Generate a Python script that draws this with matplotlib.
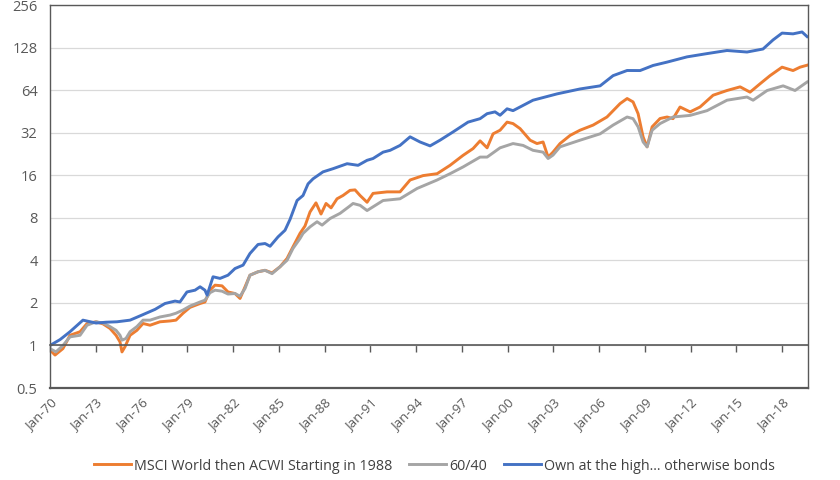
import matplotlib
matplotlib.use("Agg")
import matplotlib.pyplot as plt
from matplotlib.ticker import FixedLocator, NullLocator

# ---------------- data (decimal years, index levels) ----------------
blue_t = [1970.00, 1970.66, 1971.31, 1972.16, 1973.02, 1973.67, 1974.39, 1975.25, 1975.97,
          1976.89, 1977.54, 1978.20, 1978.52, 1978.98, 1979.51, 1979.84, 1980.16, 1980.30,
          1980.69, 1981.15, 1981.67, 1982.13, 1982.66, 1983.11, 1983.64, 1984.10, 1984.43,
          1984.95, 1985.41, 1985.74, 1986.20, 1986.59, 1986.92, 1987.25, 1987.90, 1988.56,
          1989.48, 1990.20, 1990.79, 1991.18, 1991.84, 1992.30, 1992.95, 1993.61, 1994.26,
          1994.92, 1995.57, 1996.43, 1997.41, 1998.20, 1998.66, 1999.18, 1999.51, 1999.97,
          2000.36, 2001.67, 2003.25, 2004.75, 2006.07, 2006.92, 2007.84, 2008.69, 2009.54,
          2010.46, 2011.77, 2013.08, 2013.74, 2014.39, 2015.70, 2016.75, 2017.41, 2018.00,
          2018.72, 2019.31, 2019.64]
blue_v = [1.00, 1.10, 1.25, 1.51, 1.44, 1.46, 1.47, 1.51, 1.63,
          1.80, 1.98, 2.06, 2.03, 2.39, 2.46, 2.60, 2.46, 2.27,
          3.06, 2.98, 3.14, 3.50, 3.70, 4.47, 5.18, 5.26, 5.03,
          5.86, 6.53, 7.80, 10.6, 11.5, 13.9, 15.1, 16.9, 17.8,
          19.3, 18.8, 20.4, 21.0, 23.3, 24.0, 26.0, 29.9, 27.5,
          25.8, 28.3, 32.4, 38.0, 40.2, 43.6, 44.9, 42.5, 47.2,
          45.8, 54.3, 60.2, 65.2, 68.6, 81.0, 88.1, 88.0, 95.6,
          101, 110, 116, 119, 122, 119, 125, 145, 162,
          160, 165, 153]

orange_t = [1970.00, 1970.33, 1970.85, 1971.31, 1971.97, 1972.43, 1973.02, 1973.48, 1973.93,
            1974.33, 1974.59, 1974.72, 1974.92, 1975.25, 1975.70, 1976.10, 1976.56, 1977.21,
            1977.87, 1978.26, 1978.72, 1979.18, 1979.84, 1980.16, 1980.49, 1980.82, 1981.28,
            1981.67, 1982.13, 1982.46, 1982.79, 1983.11, 1983.64, 1984.10, 1984.56, 1985.08,
            1985.54, 1985.93, 1986.39, 1986.72, 1987.05, 1987.44, 1987.77, 1988.10, 1988.43,
            1988.82, 1989.21, 1989.67, 1990.00, 1990.33, 1990.79, 1991.18, 1992.10, 1992.95,
            1993.61, 1994.46, 1995.38, 1996.23, 1997.08, 1997.74, 1998.20, 1998.66, 1999.05,
            1999.51, 1999.97, 2000.36, 2000.82, 2001.48, 2001.93, 2002.33, 2002.66, 2002.98,
            2003.44, 2004.10, 2004.75, 2005.61, 2006.52, 2007.38, 2007.84, 2008.23, 2008.56,
            2008.89, 2009.15, 2009.48, 2010.00, 2010.46, 2010.85, 2011.31, 2011.97, 2012.62,
            2013.48, 2014.39, 2015.25, 2015.90, 2016.56, 2017.21, 2018.00, 2018.72, 2019.18,
            2019.64]
orange_v = [0.93, 0.855, 0.95, 1.18, 1.25, 1.43, 1.47, 1.42, 1.32,
            1.18, 1.06, 0.90, 0.98, 1.18, 1.28, 1.43, 1.39, 1.47,
            1.49, 1.51, 1.69, 1.86, 1.98, 2.03, 2.46, 2.67, 2.64,
            2.39, 2.33, 2.15, 2.60, 3.14, 3.32, 3.40, 3.26, 3.60,
            4.12, 4.98, 6.2, 7.0, 8.8, 10.2, 8.5, 10.1, 9.4,
            10.9, 11.5, 12.5, 12.6, 11.5, 10.3, 11.9, 12.2, 12.2,
            14.8, 15.9, 16.4, 18.8, 22.1, 24.7, 28.0, 25.0, 31.4,
            33.3, 38.0, 37.1, 34.2, 28.3, 26.8, 27.5, 21.5, 23.3,
            26.8, 30.6, 33.3, 36.2, 41.3, 51.4, 55.8, 52.8, 43.6,
            29.8, 25.4, 35.2, 40.3, 41.3, 40.2, 48.6, 44.9, 48.6,
            58.9, 63.6, 67.5, 61.9, 71.0, 81.0, 93.0, 88.0, 93.0,
            96.0]

gray_t = [1970.00, 1970.39, 1970.85, 1971.31, 1971.97, 1972.43, 1973.02, 1973.48, 1973.93,
          1974.33, 1974.59, 1974.72, 1974.98, 1975.25, 1975.70, 1976.10, 1976.56, 1977.21,
          1977.87, 1978.26, 1978.72, 1979.18, 1979.84, 1980.16, 1980.49, 1980.82, 1981.28,
          1981.67, 1982.13, 1982.46, 1982.79, 1983.11, 1983.64, 1984.10, 1984.56, 1985.08,
          1985.54, 1985.93, 1986.39, 1986.59, 1987.05, 1987.51, 1987.84, 1988.36, 1989.02,
          1989.61, 1989.87, 1990.33, 1990.79, 1991.84, 1992.95, 1994.07, 1995.38, 1996.23,
          1997.08, 1998.20, 1998.66, 1999.51, 2000.36, 2001.02, 2001.67, 2002.33, 2002.66,
          2002.98, 2003.44, 2004.75, 2006.07, 2006.92, 2007.84, 2008.23, 2008.56, 2008.89,
          2009.15, 2009.48, 2010.00, 2010.85, 2011.97, 2013.08, 2014.39, 2015.70, 2016.10,
          2017.02, 2018.07, 2018.85, 2019.64]
gray_v = [0.95, 0.90, 1.00, 1.15, 1.18, 1.39, 1.47, 1.44, 1.36,
          1.28, 1.18, 1.09, 1.12, 1.25, 1.36, 1.51, 1.51, 1.59,
          1.64, 1.69, 1.78, 1.90, 2.03, 2.09, 2.36, 2.46, 2.42,
          2.31, 2.33, 2.23, 2.53, 3.14, 3.32, 3.40, 3.22, 3.60,
          4.00, 4.85, 5.70, 6.20, 6.90, 7.50, 7.10, 7.90, 8.60,
          9.60, 10.1, 9.8, 9.0, 10.6, 10.9, 12.9, 14.8, 16.4,
          18.3, 21.5, 21.5, 25.0, 26.8, 26.0, 24.0, 23.3, 21.0,
          22.2, 25.4, 28.3, 31.4, 36.2, 41.3, 40.2, 35.2, 27.5,
          25.4, 33.3, 37.1, 41.3, 42.4, 45.8, 54.3, 57.2, 54.3,
          63.6, 68.6, 63.6, 73.0]

series_labels = ["MSCI World then ACWI Starting in 1988", "60/40", "Own at the high... otherwise bonds"]
x_tick_years = list(range(1970, 2019, 3))
x_tick_labels = ["Jan-%02d" % (y % 100) for y in x_tick_years]
y_ticks = [0.5, 1, 2, 4, 8, 16, 32, 64, 128, 256]
y_tick_labels = ["0.5", "1", "2", "4", "8", "16", "32", "64", "128", "256"]

# ---------------- figure ----------------
plt.rcParams['font.family'] = ['Open Sans', 'DejaVu Sans']
fig = plt.figure(figsize=(8.4, 4.8), dpi=100)
ax = fig.add_axes([50/840, 1-388/480, 758/840, 383/480])

c_orange, c_gray, c_blue = "#ED7D31", "#A5A5A5", "#4472C4"
lw = 2.1
l1, = ax.plot(orange_t, orange_v, color=c_orange, lw=lw, label=series_labels[0], solid_joinstyle='round')
l2, = ax.plot(gray_t, gray_v, color=c_gray, lw=lw, label=series_labels[1], solid_joinstyle='round')
l3, = ax.plot(blue_t, blue_v, color=c_blue, lw=lw, label=series_labels[2], solid_joinstyle='round')

edge = '#595959'
# x axis line crosses at y = 1 (set before tick labels: repositioning resets ticks)
ax.spines['bottom'].set_position(('data', 1))
ax.spines['bottom'].set_color(edge)
ax.spines['bottom'].set_linewidth(1.2)
for s in ['left', 'right', 'top']:
    ax.spines[s].set_color(edge)
    ax.spines[s].set_linewidth(1.0)

ax.set_yscale('log', base=2)
ax.set_ylim(0.5, 256)
ax.set_xlim(1970, 2019.7)
ax.yaxis.set_major_locator(FixedLocator(y_ticks))
ax.yaxis.set_minor_locator(NullLocator())
ax.set_yticklabels(y_tick_labels)
ax.grid(axis='y', color='#D9D9D9', lw=0.9)
ax.set_axisbelow(True)

ax.xaxis.set_major_locator(FixedLocator(x_tick_years))
ax.xaxis.set_minor_locator(NullLocator())
ax.tick_params(axis='x', direction='out', length=5, width=1, color=edge, pad=32,
               labelsize=9.5, labelcolor='#595959')
ax.tick_params(axis='y', length=0, pad=9, labelsize=10.5, labelcolor='#595959')
ax.set_xticklabels(x_tick_labels, rotation=45, ha='right', va='top', rotation_mode='anchor')

# frame line at the bottom of the plot area
ax.axhline(0.5, color=edge, lw=1.6, clip_on=False, zorder=5)

fig.legend(handles=[l1, l2, l3], loc='center', bbox_to_anchor=(0.517, 1-466/480), ncol=3,
           frameon=False, fontsize=10.3, handlelength=2.6, columnspacing=1.2, handletextpad=0.2,
           labelcolor='#404040')

fig.savefig("out.png", dpi=100)
